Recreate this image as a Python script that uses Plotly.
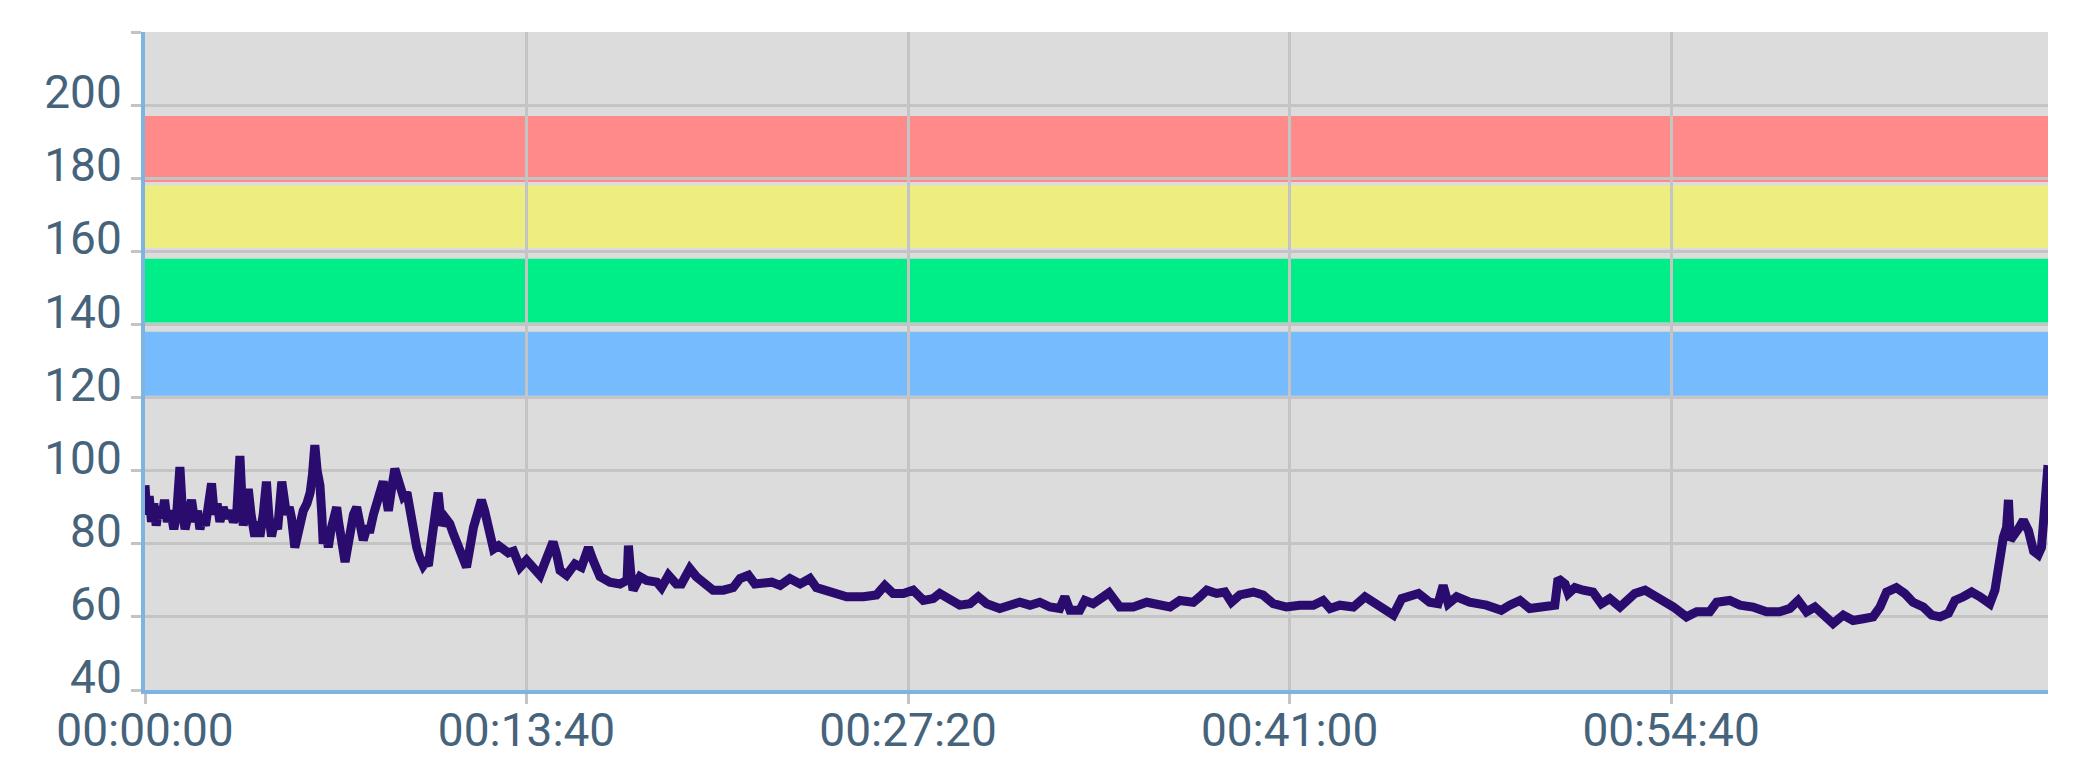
import plotly.graph_objects as go

# heart rate samples (seconds from start, bpm)
t_sec = [0, 4, 9, 14, 19, 24, 30, 36, 42, 48, 55, 62, 68, 75, 80, 86, 93, 100, 107, 113,
         118, 124, 130, 137, 143, 149, 155, 161, 168, 175, 182, 190, 197, 204, 208, 211, 216, 222, 228, 236,
         241, 247, 254, 261, 266, 272, 278, 285, 294, 299, 304, 310, 315, 322, 330, 340, 348, 355, 360, 365,
         370, 376, 380, 383, 388, 394, 400, 406, 412, 416, 419, 425, 430, 436, 441, 448, 455, 462, 469, 476,
         484, 491, 498, 505, 512, 518, 523, 530, 537, 543, 548, 555, 563, 568, 573, 578, 584, 591, 598, 604,
         609, 614, 620, 625, 630, 634, 638, 646, 655, 662, 670, 678, 688,
         691, 706, 714, 723, 730, 738, 749, 760, 770, 781, 792, 806, 820, 831, 849, 863, 877, 885, 892, 906,
         924, 938, 953, 963, 978, 999, 1021, 1036, 1039, 1044, 1049, 1064, 1078, 1100, 1110, 1125, 1142, 1153,
         1171, 1185, 1203, 1221, 1243, 1264, 1279, 1297, 1311, 1329, 1347,
         1365, 1386, 1408, 1429, 1443, 1465, 1486, 1508, 1544, 1572, 1590, 1608, 1630, 1651, 1673, 1694, 1708,
         1730, 1751, 1773, 1791, 1809, 1837, 1859, 1880, 1902, 1923, 1945, 1966, 1977, 1988, 2009, 2020, 2038,
         2056, 2072,
         2095, 2124, 2153, 2174, 2203, 2224, 2253, 2267, 2282, 2303, 2321, 2335, 2353, 2382, 2403, 2425, 2453,
         2482, 2511, 2532, 2547, 2568, 2597, 2622, 2647, 2669, 2683, 2701, 2719, 2737,
         2761, 2779, 2790, 2801, 2819, 2847, 2883, 2915, 2933, 2955, 2976, 3005, 3030, 3037, 3052, 3059, 3073,
         3091, 3112, 3130, 3148, 3170, 3188, 3202, 3224, 3242, 3263, 3285, 3313, 3335, 3363, 3378, 3406,
         3428, 3456, 3485, 3513, 3535, 3553, 3571, 3589, 3607, 3628, 3650, 3671, 3693, 3714, 3729, 3743, 3764,
         3782, 3800, 3822, 3840, 3858, 3876, 3890, 3908, 3926, 3944, 3965, 3976, 3983, 3994, 4001, 4005, 4009,
         4016, 4026, 4037, 4048, 4059, 4069, 4076, 4084, 4090]
bpm = [96, 88, 93, 86, 91, 85, 90, 87, 92, 86, 89, 84, 88, 101, 90, 84, 88, 92, 86, 89,
       84, 87, 85, 90, 96.5, 88, 91, 86, 90, 87, 89, 86, 88, 104, 90, 85, 89, 95, 88, 82,
       86, 82, 88, 97, 88, 82, 86, 84, 97, 91, 88, 90, 87, 79, 84, 89, 91, 94, 99, 107,
       100, 96, 88, 80, 84, 79, 84, 88, 90, 86, 81, 79, 75, 80, 85, 88, 90, 86, 81, 84,
       84, 88, 91, 93, 97, 93, 89, 95, 100.5, 98, 96, 93, 94, 90, 88, 84, 79, 76, 74, 75,
       74, 79, 85, 89, 94, 89, 85, 87, 85.5, 83, 80, 78, 75,
       73.6, 84.5, 88, 92, 89, 85.5, 78.6, 79.5, 78.6, 77.5, 78, 73.6, 75.5, 73.6, 71.4, 76, 80.5, 77, 72.7, 71.4,
       74.5, 73.6, 79, 75.5, 71, 69.5, 69, 70, 79.5, 72, 67.3, 71, 70, 69.5, 68, 71.4, 69, 69,
       73.2, 71, 69, 67.3, 67.3, 68, 70.5, 71.4, 69, 69, 69.5,
       68.6, 70.5, 69, 70.5, 68, 67.3, 66.4, 65.5, 65.5, 66, 68.6, 66.4, 66.4, 67.3, 64.5, 65, 66.4,
       64.5, 63.2, 63.6, 65.5, 63.6, 62.3, 63.2, 64, 63.2, 64, 62.7, 62.3, 65.5, 61.8, 61.8, 64.5, 63.6,
       65, 66.6,
       62.7, 62.7, 64, 63.6, 62.7, 64.5, 64, 65.5, 67.3, 66.4, 66.8, 64, 66, 66.8, 66, 63.6, 62.7,
       63.2, 63.2, 64.5, 62.3, 63.2, 62.7, 65.5, 63.2, 61.8, 60.5, 65, 65.5, 66.4,
       64, 63.6, 68.6, 63.6, 65.5, 64, 63.2, 61.8, 63.2, 64.5, 62.3, 62.7, 63.2, 70.5, 69, 66.4, 68,
       67.3, 66.8, 63.6, 65, 62.7, 64.5, 66.4, 67.3, 66, 64, 62.7, 60, 61.4, 61.4, 64, 64.5,
       63.2, 62.7, 61.4, 61.4, 62.3, 64.5, 61.4, 62.7, 60.5, 58.2, 60.5, 59, 59.5, 60, 62.7, 66.8, 68,
       66.4, 64, 62.7, 60.5, 60, 61, 64.5, 65.5, 66.8, 65.5, 63.6, 67.3, 74.5, 81.8, 84.5, 92, 81,
       82.7, 84, 86.4, 83.6, 78, 77, 79, 91, 101.5]

# heart rate zones (bpm)
zone_low = [120.5, 140.5, 161, 179]
zone_high = [138, 158, 178, 197]
zone_colors = ['#77bbff', '#00ee88', '#eeee80', '#ff8a8a']

x_tick_vals = [0, 820, 1640, 2460, 3280]
x_tick_text = ['00:00:00', '00:13:40', '00:27:20', '00:41:00', '00:54:40']
y_tick_vals = [40, 60, 80, 100, 120, 140, 160, 180, 200, 220]
y_tick_text = ['40', '60', '80', '100', '120', '140', '160', '180', '200', '']

fig = go.Figure()

fig.add_trace(
    go.Scatter(
        x=t_sec,
        y=bpm,
        mode='lines',
        line=dict(color='#2a0b6e', width=9),
        showlegend=False,
        hoverinfo='skip'
    )
)

# colored zone bands under the grid
for lo, hi, col in zip(zone_low, zone_high, zone_colors):
    fig.add_shape(type='rect', xref='paper', yref='y', x0=0, x1=1, y0=lo, y1=hi,
                  fillcolor=col, line=dict(width=0), layer='below')

# page body adds an 8px offset, margins account for it
fig.update_layout(
    width=2073,
    height=775,
    margin=dict(l=137, r=33, t=24, b=93),
    paper_bgcolor='white',
    plot_bgcolor='#dcdcdc',
    xaxis=dict(
        range=[0, 4090],
        tickvals=x_tick_vals,
        ticktext=x_tick_text,
        showgrid=True,
        gridcolor='#c4c4c4',
        gridwidth=3,
        zeroline=False,
        showline=True,
        linecolor='#7eb3e3',
        linewidth=4,
        ticks='outside',
        ticklen=10,
        tickwidth=3,
        tickcolor='#c4c4c4',
        tickfont=dict(family='Roboto', size=46, color='#46637c'),
        ticklabelstandoff=-13,
        automargin=False
    ),
    yaxis=dict(
        range=[40, 220],
        tickvals=y_tick_vals,
        ticktext=y_tick_text,
        showgrid=True,
        gridcolor='#c4c4c4',
        gridwidth=3,
        zeroline=False,
        showline=True,
        linecolor='#7eb3e3',
        linewidth=4,
        ticks='outside',
        ticklen=10,
        tickwidth=3,
        tickcolor='#c4c4c4',
        tickfont=dict(family='Roboto', size=46, color='#46637c'),
        ticklabelshift=-13,
        ticklabelstandoff=0,
        automargin=False
    )
)

fig.write_html("out.html")
